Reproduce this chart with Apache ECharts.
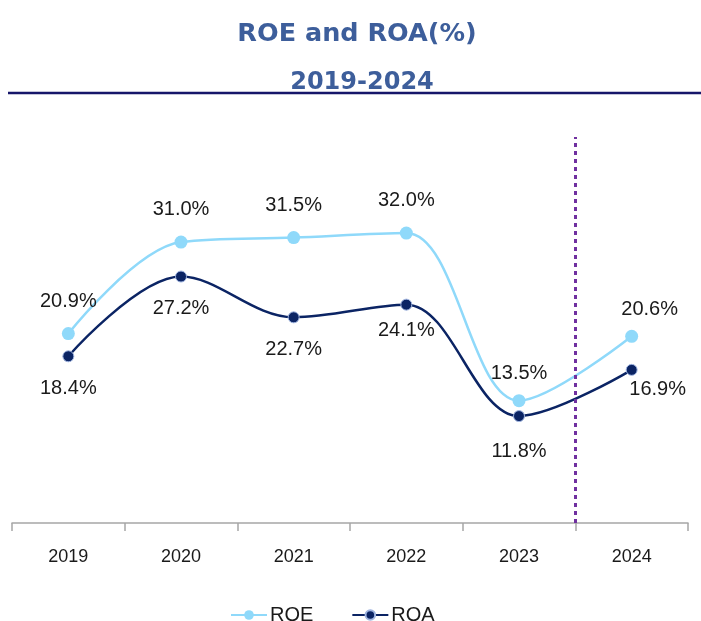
<!DOCTYPE html>
<html lang="en">
<head>
  <meta charset="UTF-8">
  <script src="https://cdn.jsdelivr.net/npm/echarts/dist/echarts.min.js"></script>
  <style>
    html, body { margin: 0; padding: 0; background: #fff; }
    #chart { width: 701px; height: 621px; }
  </style>
</head>
<body>
  <div id="chart"></div>
  <script>
    const years = ['2019', '2020', '2021', '2022', '2023', '2024'];
    const roe = [20.9, 31.0, 31.5, 32.0, 13.5, 20.6];
    const roa = [18.4, 27.2, 22.7, 24.1, 11.8, 16.9];
    // divider sits on the boundary before 2024
    const dividerAt = 5;

    // label nudges, per point (style only)
    const roeNudge = { 4: [0, 5], 5: [18, 6] };
    const roaNudge = { 3: [0, -6], 4: [0, 3], 5: [26, -12] };

    const withNudge = (vals, nudge) => vals.map((v, i) =>
      nudge[i] ? { value: v, label: { offset: nudge[i] } } : v);

    const chart = echarts.init(document.getElementById('chart'));
    const labelFont = { fontFamily: 'Liberation Sans, Arial, sans-serif', fontSize: 20, color: '#1a1a1a' };

    chart.setOption({
      animation: false,
      title: [
        { text: 'ROE and ROA(%)', left: 352, top: 16, textAlign: 'center',
          textStyle: { fontFamily: 'DejaVu Sans', fontSize: 25.5, fontWeight: 'bold', color: '#3d5e9b' } },
        { text: years[0] + '-' + years[years.length - 1], left: 357, top: 66, textAlign: 'center',
          textStyle: { fontFamily: 'DejaVu Sans', fontSize: 24, fontWeight: 'bold', color: '#3d5e9b' } }
      ],
      graphic: [{
        type: 'line', shape: { x1: 8, y1: 93, x2: 701, y2: 93 },
        style: { stroke: '#16166a', lineWidth: 2.5 }
      }],
      legend: {
        top: 600, left: 225, itemWidth: 36, itemHeight: 12, itemGap: 38,
        textStyle: { fontFamily: 'Liberation Sans, Arial, sans-serif', fontSize: 20, color: '#1a1a1a', padding: [0, 0, 0, -2] },
        data: ['ROE', 'ROA']
      },
      grid: { left: 12, right: 13, top: 137, bottom: 98 },
      xAxis: [{
        type: 'category', data: years, boundaryGap: true,
        axisLine: { lineStyle: { color: '#a6a6a6', width: 1.5 } },
        axisTick: { show: true, length: 8, lineStyle: { color: '#a6a6a6', width: 1.5 } },
        axisLabel: { margin: 25, fontFamily: 'Liberation Sans, Arial, sans-serif', fontSize: 18, color: '#1a1a1a' }
      }, {
        type: 'value', min: 0, max: years.length, show: false
      }],
      yAxis: { type: 'value', min: 0, max: 42.6, show: false },
      series: [{
        name: 'ROE', type: 'line', smooth: 0.35, data: withNudge(roe, roeNudge),
        symbol: 'circle', symbolSize: 13,
        lineStyle: { color: '#8fd9fa', width: 2.5 },
        itemStyle: { color: '#8fd9fa' },
        label: Object.assign({ show: true, position: 'top', distance: 16, formatter: p => p.value.toFixed(1) + '%' }, labelFont),
        z: 3
      }, {
        name: 'ROA', type: 'line', smooth: 0.35, data: withNudge(roa, roaNudge),
        symbol: 'circle', symbolSize: 11,
        lineStyle: { color: '#0b2464', width: 2.5 },
        itemStyle: { color: '#0b2464', borderColor: '#9fb4e0', borderWidth: 1 },
        label: Object.assign({ show: true, position: 'bottom', distance: 16, formatter: p => p.value.toFixed(1) + '%' }, labelFont),
        z: 4
      }, {
        name: 'divider', type: 'line', xAxisIndex: 1, data: [],
        markLine: {
          silent: true, symbol: 'none', label: { show: false },
          lineStyle: { color: '#7030a0', type: [4, 4], width: 3 },
          data: [{ xAxis: dividerAt }]
        }
      }]
    });
  </script>
</body>
</html>
